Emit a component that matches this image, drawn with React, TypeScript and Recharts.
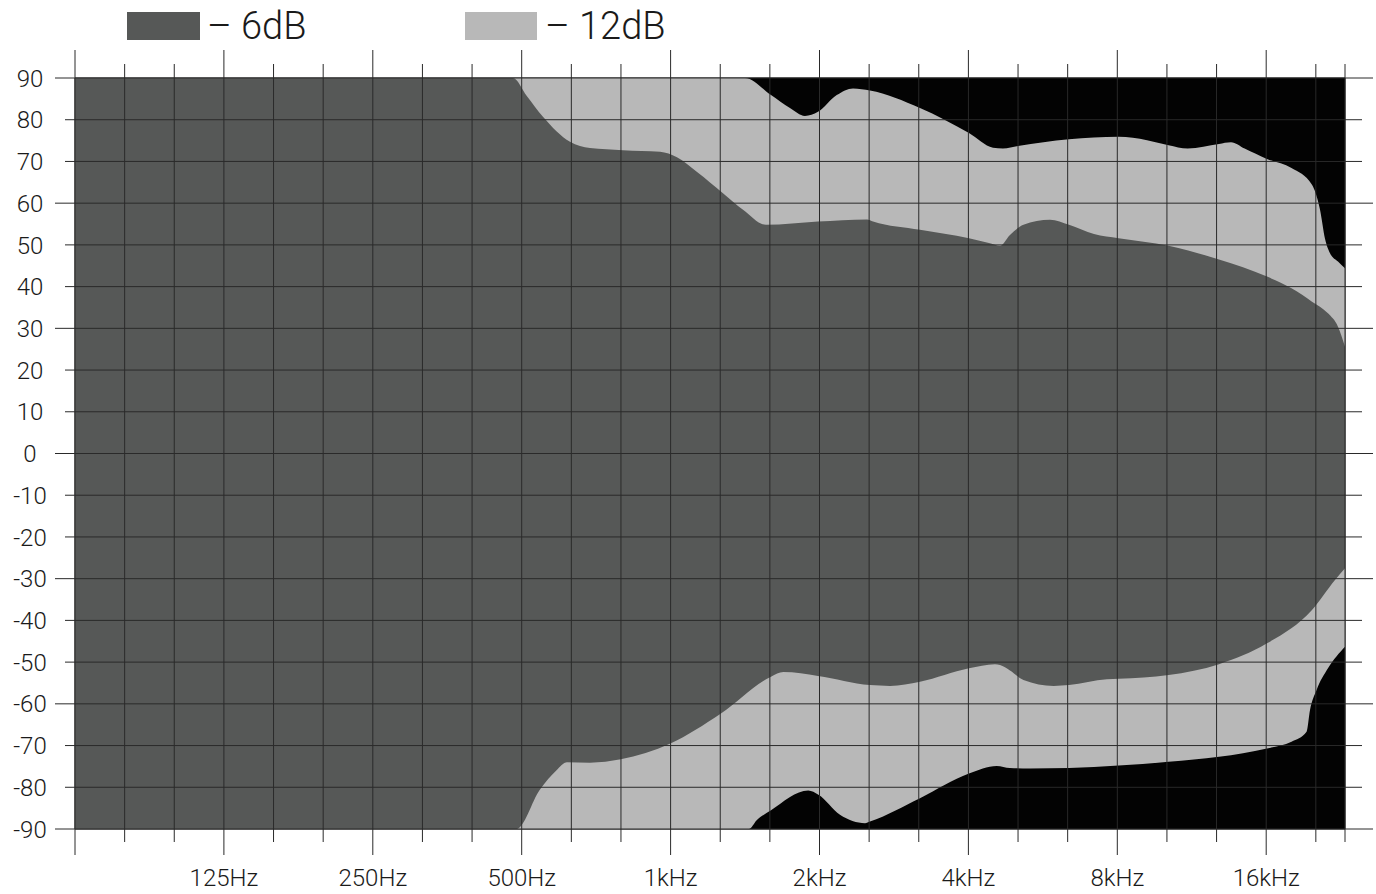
import { ComposedChart, Area, XAxis, YAxis, CartesianGrid, ReferenceLine } from "recharts"

const DARK = "#565857"
const LIGHT = "#b8b8b8"
const BLACK = "#030303"
const GRID = "#2a2a2a"
const INK = "#1a1a1a"
const FONT = "Roboto, 'Noto Sans', sans-serif"

// frequency ticks (Hz), third-octave spacing from 62.5 Hz
const octaveTicks = [62.5, 125, 250, 500, 1000, 2000, 4000, 8000, 16000]
const minorTicks = [
  78.75, 99.21, 157.49, 198.43, 314.98, 396.85, 629.96, 793.7, 1259.92, 1587.4,
  2519.84, 3174.8, 5039.68, 6349.6, 10079.37, 12699.21, 20158.74, 23090,
]
const labelFreqs = [125, 250, 500, 1000, 2000, 4000, 8000, 16000]
const labelTexts = ["125Hz", "250Hz", "500Hz", "1kHz", "2kHz", "4kHz", "8kHz", "16kHz"]
const yTicks = [-90, -80, -70, -60, -50, -40, -30, -20, -10, 0, 10, 20, 30, 40, 50, 60, 70, 80, 90]

// -12dB boundary, upper side
const light12UpHz = [
  62.5, 1414, 1596, 1743, 1869, 1986, 2167, 2338, 2530, 3193, 4011, 4485, 4699, 5039, 6389,
  8049, 9187, 10158, 11103, 12843, 13581, 14470, 16060, 18000, 19801, 20551, 21037, 21533, 22348, 23090,
]
const light12UpDeg = [
  90, 90, 85.9, 82.8, 80.9, 81.9, 85.9, 87.5, 87, 82.8, 76.8, 73.3, 73.1, 73.7, 75.3,
  75.9, 75.1, 73.9, 73.1, 74.2, 74.6, 73.1, 70.6, 68.4, 64.4, 58.5, 51.5, 48, 46, 44.4,
]

// -12dB boundary, lower side
const light12DownHz = [
  62.5, 1440, 1493, 1596, 1898, 1990, 2200, 2472, 2530, 3193, 4011, 4563, 4854, 5328, 6389,
  8049, 10158, 12843, 16060, 18000, 19309, 19619, 20230, 21331, 23090,
]
const light12DownDeg = [
  -90, -90, -87.9, -85.5, -80.8, -81.8, -86.6, -88.6, -88.2, -82.6, -76.7, -74.9, -75.4, -75.5, -75.4,
  -74.8, -73.9, -72.7, -70.7, -69.1, -66.7, -61.5, -56.7, -51.5, -46.3,
]

// -6dB boundary, upper side
const dark6UpHz = [
  62.5, 480, 512, 552, 626, 687, 801, 952, 1030, 1131, 1276, 1401, 1559, 1986, 2495, 2566, 3193,
  4011, 4423, 4634, 4854, 5169, 5848, 6389, 7178, 8049, 10158, 12843, 16060, 18000, 19801,
  21331, 22348, 23090,
]
const dark6UpDeg = [
  90, 90, 85.7, 80.7, 74.7, 73.2, 72.7, 72.3, 71, 67.5, 62.4, 58.4, 54.8, 55.6, 56.1, 55.6, 53.6,
  51.6, 50.4, 49.8, 52.4, 54.8, 56, 54.8, 52.6, 51.6, 49.8, 46.5, 42.4, 39.6, 36.4,
  33.6, 30.4, 25.6,
]

// -6dB boundary, lower side
const dark6DownHz = [
  62.5, 488, 544, 588, 617, 687, 793, 999, 1264, 1596, 1690, 1986, 2530, 2777, 3193, 4011,
  4527, 4634, 4854, 5169, 5950, 6389, 7625, 8049, 10158, 12843, 16060, 19801, 22040, 23090,
]
const dark6DownDeg = [
  -90, -90, -80.6, -75.9, -74, -74.1, -73.3, -69.5, -62.3, -53.5, -52.4, -53.3, -55.5, -55.7, -54.7, -51.5,
  -50.5, -50.7, -52, -54.3, -55.7, -55.5, -54.1, -54, -53.1, -50.5, -45.5, -37.5, -30.3, -27.5,
]

const zip = (hz: number[], deg: number[]) => hz.map((f, i) => ({ f, v: deg[i] }))

const allTicks = [...octaveTicks, ...minorTicks].sort((a, b) => a - b)

const BottomTick = ({ x, y, payload }: any) => {
  const long = octaveTicks.includes(payload.value)
  const idx = labelFreqs.indexOf(payload.value)
  return (
    <g>
      <line x1={x} x2={x} y1={y} y2={y + (long ? 26 : 13)} stroke={GRID} />
      {idx >= 0 && (
        <text x={x} y={y + 57} textAnchor="middle" fontSize={24} fontWeight={300} fontFamily={FONT} fill={INK}>
          {labelTexts[idx]}
        </text>
      )}
    </g>
  )
}

const TopTick = ({ x, y, payload }: any) => {
  const long = octaveTicks.includes(payload.value)
  return <line x1={x} x2={x} y1={y} y2={y - (long ? 28 : 14)} stroke={GRID} />
}

const LeftTick = ({ x, y, payload }: any) => {
  const major = payload.value % 30 === 0
  return (
    <g>
      <line x1={x - (major ? 20 : 10)} x2={x} y1={y} y2={y} stroke={GRID} />
      <text x={x - 45} y={y} dy="0.36em" textAnchor="middle" fontSize={24} fontWeight={300} fontFamily={FONT} fill={INK}>
        {payload.value}
      </text>
    </g>
  )
}

const RightTick = ({ x, y, payload }: any) => {
  const major = payload.value % 30 === 0
  return <line x1={x} x2={x + (major ? 28 : 17)} y1={y} y2={y} stroke={GRID} />
}

export default function App() {
  const xDomain = [62.5, 23090]
  return (
    <div style={{ position: "absolute", left: 0, top: 0, width: 1376, height: 894, background: "#fff" }}>
      <svg width={1376} height={60} style={{ position: "absolute", left: 0, top: 0 }}>
        <rect x={127} y={12} width={73} height={28} fill={DARK} />
        <text x={207} y={39} fontSize={38} fontWeight={300} fontFamily={FONT} fill={INK}>– 6dB</text>
        <rect x={465} y={12} width={72} height={28} fill={LIGHT} />
        <text x={545} y={39} fontSize={38} fontWeight={300} fontFamily={FONT} fill={INK}>– 12dB</text>
      </svg>
      <ComposedChart width={1376} height={894} margin={{ top: 0, right: 0, bottom: 0, left: 0 }}>
        <XAxis
          xAxisId="b" type="number" dataKey="f" scale="log" domain={xDomain} allowDataOverflow
          ticks={allTicks} interval={0} height={65} tickSize={0} tickMargin={0}
          axisLine={false} tickLine={false} tick={BottomTick}
        />
        <XAxis
          xAxisId="t" orientation="top" type="number" dataKey="f" scale="log" domain={xDomain} allowDataOverflow
          ticks={allTicks} interval={0} height={78} tickSize={0} tickMargin={0}
          axisLine={false} tickLine={false} tick={TopTick}
        />
        <YAxis
          yAxisId="l" type="number" domain={[-90, 90]} allowDataOverflow ticks={yTicks} interval={0}
          width={75} tickSize={0} tickMargin={0} axisLine={false} tickLine={false} tick={LeftTick}
        />
        <YAxis
          yAxisId="r" orientation="right" type="number" domain={[-90, 90]} allowDataOverflow ticks={yTicks}
          interval={0} width={31} tickSize={0} tickMargin={0} axisLine={false} tickLine={false} tick={RightTick}
        />
        <CartesianGrid xAxisId="b" yAxisId="l" fill={BLACK} stroke={BLACK} />
        <Area
          xAxisId="b" yAxisId="l" data={zip(light12UpHz, light12UpDeg)} dataKey="v" type="monotoneX"
          baseValue={0} fill={LIGHT} fillOpacity={1} stroke="none" dot={false} activeDot={false} isAnimationActive={false}
        />
        <Area
          xAxisId="b" yAxisId="l" data={zip(light12DownHz, light12DownDeg)} dataKey="v" type="monotoneX"
          baseValue={0} fill={LIGHT} fillOpacity={1} stroke="none" dot={false} activeDot={false} isAnimationActive={false}
        />
        <Area
          xAxisId="b" yAxisId="l" data={zip(dark6UpHz, dark6UpDeg)} dataKey="v" type="monotoneX"
          baseValue={0} fill={DARK} fillOpacity={1} stroke="none" dot={false} activeDot={false} isAnimationActive={false}
        />
        <Area
          xAxisId="b" yAxisId="l" data={zip(dark6DownHz, dark6DownDeg)} dataKey="v" type="monotoneX"
          baseValue={0} fill={DARK} fillOpacity={1} stroke="none" dot={false} activeDot={false} isAnimationActive={false}
        />
        {allTicks.map((t) => (
          <ReferenceLine key={"x" + t} xAxisId="b" yAxisId="l" x={t} stroke={GRID} strokeWidth={1} />
        ))}
        {yTicks.map((t) => (
          <ReferenceLine key={"y" + t} xAxisId="b" yAxisId="l" y={t} stroke={GRID} strokeWidth={1} />
        ))}
      </ComposedChart>
    </div>
  )
}
